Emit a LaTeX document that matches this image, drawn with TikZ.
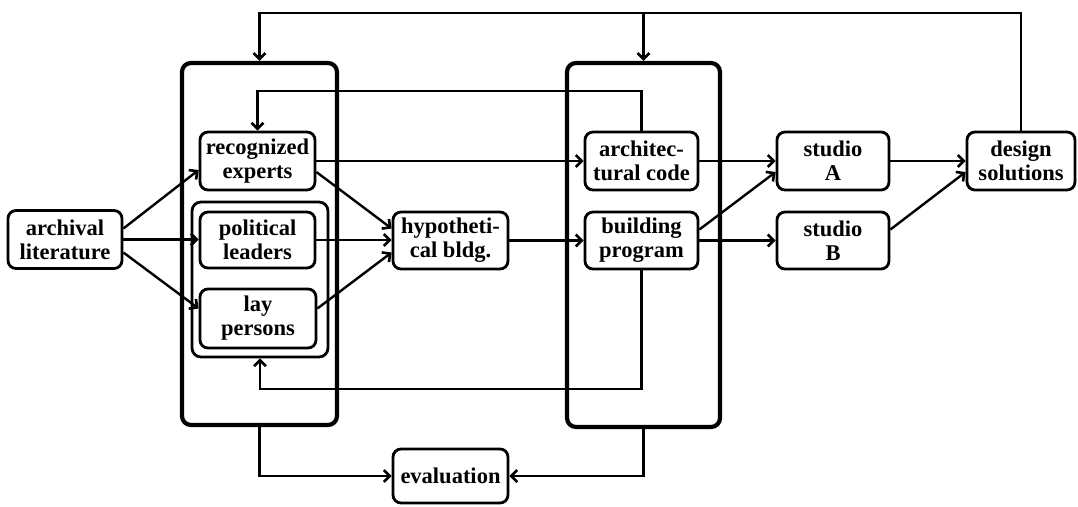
\documentclass[tikz,border=0pt]{standalone}
\usepackage{fontspec}
\setmainfont{Liberation Serif}
\usetikzlibrary{arrows.meta}
\begin{document}
\begin{tikzpicture}[x=1pt,y=-1pt,
  box/.style={draw,line width=2.8pt,rounded corners=8pt,align=center,
    font=\fontsize{22.5}{24}\selectfont\bfseries,inner sep=0pt},
  frame/.style={draw,line width=4.2pt,rounded corners=9pt},
  group/.style={draw,line width=2.8pt,rounded corners=9pt},
  arr/.style={line width=2.4pt,-{Straight Barb[length=6pt,width=12pt,line width=2.6pt]}}]
\useasboundingbox (0,0) rectangle (1078,506);

% enclosing frames and the inner group
\node[frame,minimum width=155pt,minimum height=362pt] (bigL) at (259.5,244) {};
\node[frame,minimum width=153pt,minimum height=364pt] (bigR) at (643.5,245) {};
\node[group,minimum width=136pt,minimum height=155pt] (grp) at (260,279.5) {};

% boxes
\node[box,minimum width=114pt,minimum height=58pt] (arch) at (65,239.5) {archival\\literature};
\node[box,minimum width=115pt,minimum height=58pt] (exp) at (257.5,161) {recognized\\experts};
\node[box,minimum width=115pt,minimum height=56pt] (pol) at (257.5,240) {political\\leaders};
\node[box,minimum width=116pt,minimum height=59pt] (lay) at (258,318.5) {lay\\persons};
\node[box,minimum width=115pt,minimum height=57pt] (hyp) at (450.5,240.5) {hypotheti-\\cal bldg.};
\node[box,minimum width=113pt,minimum height=58pt] (code) at (641.5,161) {architec-\\tural code};
\node[box,minimum width=113pt,minimum height=57pt] (prog) at (641.5,240.5) {building\\program};
\node[box,minimum width=112pt,minimum height=58pt] (sA) at (833,161) {studio\\A};
\node[box,minimum width=112pt,minimum height=57pt] (sB) at (833,240.5) {studio\\B};
\node[box,minimum width=108pt,minimum height=58pt] (sol) at (1021,161) {design\\solutions};
\node[box,minimum width=115pt,minimum height=54pt] (eval) at (450.5,476) {evaluation};

% levels of the feedback lines
\coordinate (topline) at (0,13);
\coordinate (codeline) at (0,91);
\coordinate (progline) at (0,389);

% forward flow
\draw[arr] ([yshift=11pt]arch.east) -- ([yshift=-9pt]exp.west);
\draw[arr] (arch.east) -- (arch.east -| pol.west);
\draw[arr] ([yshift=-13pt]arch.east) -- ([yshift=10pt]lay.west);
\draw[arr] ([yshift=-11pt]exp.east) -- ([yshift=12pt]hyp.west);
\draw[arr] (pol.east) -- (pol.east -| hyp.west);
\draw[arr] ([yshift=10pt]lay.east) -- ([yshift=-12pt]hyp.west);
\draw[arr] (exp.east) -- (code.west);
\draw[arr] (hyp.east) -- (prog.west);
\draw[arr] (code.east) -- (sA.west);
\draw[arr] ([yshift=11pt]prog.east) -- ([yshift=-11pt]sA.west);
\draw[arr] (prog.east) -- (sB.west);
\draw[arr] (sA.east) -- (sol.west);
\draw[arr] ([yshift=11pt]sB.east) -- ([yshift=-11pt]sol.west);

% feedback
\draw[arr] (sol.north) |- (bigL.north |- topline) -- (bigL.north);
\draw[arr] (bigR.north |- topline) -- (bigR.north);
\draw[arr] (code.north) -- (code.north |- codeline) -| (exp.north);
\draw[arr] (prog.south) -- (prog.south |- progline) -| (grp.south);

% evaluation
\draw[arr] (bigL.south) |- (eval.west);
\draw[arr] (bigR.south) |- (eval.east);
\end{tikzpicture}
\end{document}
